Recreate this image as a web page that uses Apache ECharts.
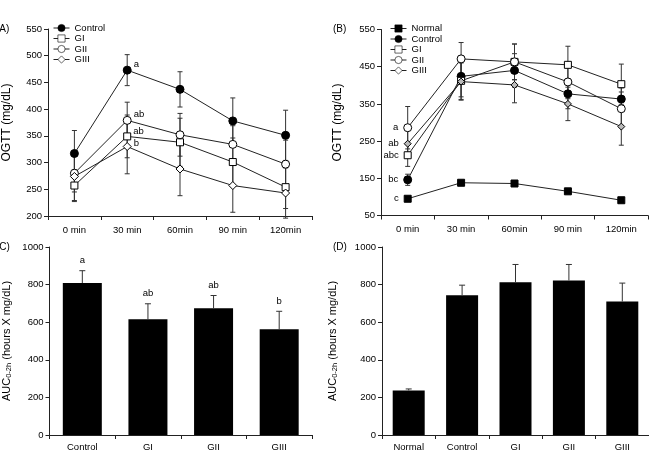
<!DOCTYPE html>
<html><head><meta charset="utf-8">
<script src="https://cdn.jsdelivr.net/npm/echarts@6/dist/echarts.min.js"></script>
<style>html,body{margin:0;padding:0;background:#fff}#c{width:649px;height:454px}</style>
</head><body><div id="c"></div>
<script>
// ---- data ----
const timeCats = ['0 min', '30 min', '60min', '90 min', '120min'];
const aYTicks = [200, 550, 50];
const bYTicks = [50, 550, 100];

const aControl = [317, 473, 437, 378, 351];
const aControlErr = [43, 29, 33, 43, 47];
const aGI = [257, 349, 338, 301, 254];
const aGIErr = [30, 40, 45, 45, 40];
const aGII = [280, 379, 352, 334, 297];
const aGIIErr = [35, 34, 40, 35, 45];
const aGIII = [274, 330, 288, 257, 243];
const aGIIIErr = [45, 51, 50, 50, 47];
const aLetControl = ['', 'a', '', '', ''];
const aLetGI = ['', 'ab', '', '', ''];
const aLetGII = ['', 'ab', '', '', ''];
const aLetGIII = ['', 'b', '', '', ''];

const bNormal = [95, 138, 136, 115, 91];
const bNormalErr = [4, 4, 4, 4, 4];
const bControl = [146, 424, 440, 377, 363];
const bControlErr = [15, 55, 45, 40, 30];
const bGI = [212, 412, 463, 455, 403];
const bGIErr = [30, 50, 48, 50, 54];
const bGII = [286, 471, 463, 409, 337];
const bGIIErr = [57, 44, 48, 45, 45];
const bGIII = [243, 410, 401, 350, 289];
const bGIIIErr = [35, 50, 48, 45, 50];
const bLetNormal = ['c', '', '', '', ''];
const bLetControl = ['bc', '', '', '', ''];
const bLetGI = ['abc', '', '', '', ''];
const bLetGII = ['a', '', '', '', ''];
const bLetGIII = ['ab', '', '', '', ''];

const cCats = ['Control', 'GI', 'GII', 'GIII'];
const cMeans = [808, 616, 674, 562];
const cErr = [66, 82, 68, 96];
const cLetters = ['a', 'ab', 'ab', 'b'];

const dCats = ['Normal', 'Control', 'GI', 'GII', 'GIII'];
const dMeans = [237, 744, 813, 822, 710];
const dErr = [8, 53, 94, 85, 98];

// ---- chart ----
const FONT = 'Liberation Sans, Arial, sans-serif';
const AX = '#222';
const FS = 9.5;

function mkX(grid, cats, margin) {
  return {
    type: 'category', gridIndex: grid, data: cats, boundaryGap: true,
    axisLine: { lineStyle: { color: AX, width: 1 } },
    axisTick: { show: true, length: 4, lineStyle: { color: AX } },
    axisLabel: { color: '#000', fontSize: FS, fontFamily: FONT, margin: margin, interval: 0 },
    splitLine: { show: false }
  };
}
function mkY(grid, min, max, interval, name, gap, nfs) {
  return {
    type: 'value', gridIndex: grid, min: min, max: max, interval: interval,
    name: name, nameLocation: 'middle', nameGap: gap, nameRotate: 90,
    nameTextStyle: { color: '#000', fontSize: nfs, fontFamily: FONT,
      rich: { sub: { fontSize: 7.5, fontFamily: FONT, color: '#000', verticalAlign: 'bottom', padding: [4, 0, 0, 0] } } },
    axisLine: { show: true, lineStyle: { color: AX, width: 1 } },
    axisTick: { show: true, length: 4, lineStyle: { color: AX } },
    axisLabel: { color: '#000', fontSize: FS, fontFamily: FONT, margin: 6, formatter: v => String(v) },
    splitLine: { show: false }
  };
}

function errSeries(xi, yi, means, errs, capW, upOnly, letters, lblGap) {
  const data = means.map((m, i) => [i, m, errs[i]]);
  return {
    type: 'custom', xAxisIndex: xi, yAxisIndex: yi, z: 1, silent: true,
    data: data, encode: { x: 0, y: 1 },
    renderItem: function (params, api) {
      const i = api.value(0), m = api.value(1), e = api.value(2);
      const top = api.coord([i, m + e]);
      const bot = api.coord([i, upOnly ? m : m - e]);
      const st = { stroke: '#333', lineWidth: 1 };
      const ch = [
        { type: 'line', shape: { x1: top[0], y1: top[1], x2: bot[0], y2: bot[1] }, style: st },
        { type: 'line', shape: { x1: top[0] - capW, y1: top[1], x2: top[0] + capW, y2: top[1] }, style: st }
      ];
      if (!upOnly) ch.push({ type: 'line', shape: { x1: bot[0] - capW, y1: bot[1], x2: bot[0] + capW, y2: bot[1] }, style: st });
      if (letters && letters[params.dataIndex]) {
        ch.push({ type: 'text', style: { text: letters[params.dataIndex], x: top[0], y: top[1] - lblGap,
          fill: '#000', font: FS + 'px ' + FONT, align: 'center', verticalAlign: 'bottom' } });
      }
      return { type: 'group', children: ch };
    }
  };
}

function lineSeries(name, xi, yi, vals, symbol, size, fill, letters, lblPos, lblOffset) {
  return {
    type: 'line', name: name, xAxisIndex: xi, yAxisIndex: yi, z: 3,
    data: vals, symbol: symbol, symbolSize: size, showAllSymbol: true,
    lineStyle: { color: '#222', width: 1 },
    itemStyle: { color: fill, borderColor: '#000', borderWidth: 1 },
    label: { show: true, position: lblPos, offset: lblOffset, distance: 3,
      color: '#000', fontSize: FS, fontFamily: FONT,
      formatter: p => letters[p.dataIndex] || '' },
    emphasis: { disabled: true }, animation: false
  };
}

const series = [
  errSeries(0, 0, aControl, aControlErr, 2.5, false),
  errSeries(0, 0, aGI, aGIErr, 2.5, false),
  errSeries(0, 0, aGII, aGIIErr, 2.5, false),
  errSeries(0, 0, aGIII, aGIIIErr, 2.5, false),
  lineSeries('Control', 0, 0, aControl, 'circle', 8, '#000', aLetControl, 'right', [-1, -6]),
  lineSeries('GI', 0, 0, aGI, 'rect', 7, '#fff', aLetGI, 'right', [-1, -5]),
  lineSeries('GII', 0, 0, aGII, 'circle', 8, '#fff', aLetGII, 'right', [-1, -6]),
  lineSeries('GIII', 0, 0, aGIII, 'diamond', 8, '#fff', aLetGIII, 'right', [-1, -3]),

  errSeries(1, 1, bNormal, bNormalErr, 2.5, false),
  errSeries(1, 1, bControl, bControlErr, 2.5, false),
  errSeries(1, 1, bGI, bGIErr, 2.5, false),
  errSeries(1, 1, bGII, bGIIErr, 2.5, false),
  errSeries(1, 1, bGIII, bGIIIErr, 2.5, false),
  lineSeries('Normal', 1, 1, bNormal, 'rect', 7, '#000', bLetNormal, 'left', [-2, 0]),
  lineSeries('Control', 1, 1, bControl, 'circle', 8, '#000', bLetControl, 'left', [-2, 0]),
  lineSeries('GI', 1, 1, bGI, 'rect', 7, '#fff', bLetGI, 'left', [-2, 0]),
  lineSeries('GII', 1, 1, bGII, 'circle', 8, '#fff', bLetGII, 'left', [-2, 0]),
  lineSeries('GIII', 1, 1, bGIII, 'diamond', 7, '#bbb', bLetGIII, 'left', [-2, 0]),

  { type: 'bar', xAxisIndex: 2, yAxisIndex: 2, data: cMeans, barWidth: 39, z: 2,
    itemStyle: { color: '#000' }, animation: false },
  errSeries(2, 2, cMeans, cErr, 3, true, cLetters, 5),
  { type: 'bar', xAxisIndex: 3, yAxisIndex: 3, data: dMeans, barWidth: 32, z: 2,
    itemStyle: { color: '#000' }, animation: false },
  errSeries(3, 3, dMeans, dErr, 3, true),
];
series.forEach(s => { s.z = s.type === 'custom' ? (s.xAxisIndex >= 2 ? 4 : 1) : s.z; s.animation = false; });

const legendCommon = {
  orient: 'vertical', itemWidth: 16, itemHeight: 9, itemGap: 0.5, padding: 0, selectedMode: false,
  itemStyle: { borderWidth: 0.6 },
  lineStyle: { width: 1 },
  textStyle: { fontSize: FS, fontFamily: FONT, color: '#000', lineHeight: 10 }
};

const option = {
  animation: false,
  backgroundColor: '#fff',
  textStyle: { fontFamily: FONT },
  grid: [
    { left: 43, top: 29, width: 269, height: 187 },
    { left: 381, top: 29.5, width: 267, height: 186 },
    { left: 45, top: 247, width: 267, height: 188 },
    { left: 382, top: 247, width: 267, height: 188 }
  ],
  xAxis: [mkX(0, timeCats, 9), mkX(1, timeCats, 9), mkX(2, cCats, 7), mkX(3, dCats, 7)],
  yAxis: [
    mkY(0, aYTicks[0], aYTicks[1], aYTicks[2], 'OGTT (mg/dL)', 35, 12),
    mkY(1, bYTicks[0], bYTicks[1], bYTicks[2], 'OGTT (mg/dL)', 37, 12),
    mkY(2, 0, 1000, 200, 'AUC{sub|0-2h} (hours X mg/dL)', 37, 11),
    mkY(3, 0, 1000, 200, 'AUC{sub|0-2h} (hours X mg/dL)', 43, 11)
  ],
  legend: [
    Object.assign({ data: ['Control', 'GI', 'GII', 'GIII'], left: 53, top: 23 }, legendCommon),
    Object.assign({ data: ['Normal', 'Control', 'GI', 'GII', 'GIII'], left: 390, top: 23.5 }, legendCommon)
  ],
  graphic: [
    { type: 'text', left: -4, top: 24, style: { text: '(A)', font: '10px ' + FONT, fill: '#000' } },
    { type: 'text', left: 333, top: 24, style: { text: '(B)', font: '10px ' + FONT, fill: '#000' } },
    { type: 'text', left: -4, top: 242, style: { text: '(C)', font: '10px ' + FONT, fill: '#000' } },
    { type: 'text', left: 333, top: 242, style: { text: '(D)', font: '10px ' + FONT, fill: '#000' } }
  ],
  series: series
};
const chart = echarts.init(document.getElementById('c'), null, { renderer: 'canvas' });
chart.setOption(option);
</script></body></html>
